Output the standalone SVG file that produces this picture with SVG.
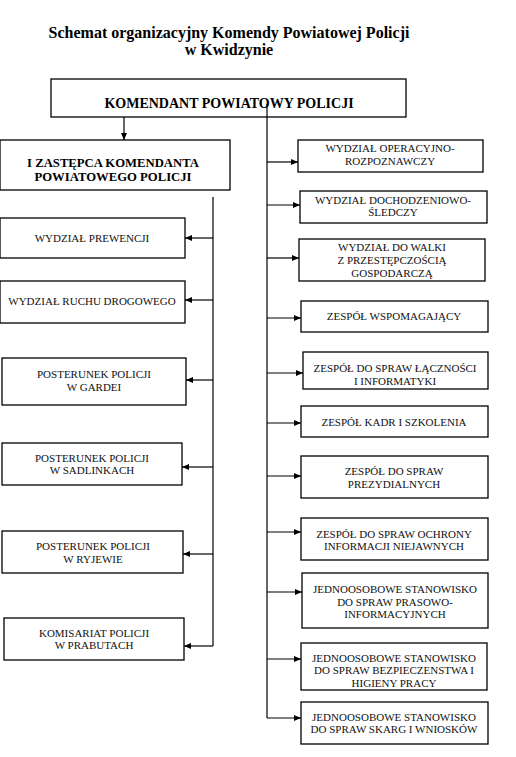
<svg xmlns="http://www.w3.org/2000/svg" width="516" height="757" viewBox="0 0 516 757">
<style>
.bx{fill:#fff;stroke:#000;stroke-width:1.3}
.t{font-family:"Liberation Serif","Times New Roman",serif;font-size:11px;fill:#111;text-anchor:middle}
.tb{font-family:"Liberation Serif","Times New Roman",serif;font-weight:bold;fill:#000;text-anchor:middle}
.ln{fill:none;stroke:#000;stroke-width:1.2}
</style>
<defs>
<marker id="ah" markerUnits="userSpaceOnUse" markerWidth="7" markerHeight="6" refX="7" refY="3" orient="auto">
<path d="M0,0 L7,3 L0,6 z" fill="#000"/>
</marker>
</defs>
<rect width="516" height="757" fill="#fff"/>
<text class="tb" x="229" y="37.5" font-size="16">Schemat organizacyjny Komendy Powiatowej Policji</text>
<text class="tb" x="229" y="55" font-size="16">w Kwidzynie</text>

<g id="komendant"><rect class="bx" x="51" y="79" width="355" height="38"/><text class="tb" x="229" y="107.5" font-size="14">KOMENDANT POWIATOWY POLICJI</text></g>
<g id="zastepca"><rect class="bx" x="0" y="140" width="230" height="50"/><text class="tb" x="113" y="166.5" font-size="12.7">I ZASTĘPCA KOMENDANTA</text><text class="tb" x="113" y="180.5" font-size="12.7">POWIATOWEGO POLICJI</text></g>

<g id="prewencja"><rect class="bx" x="0" y="218" width="185" height="40"/><text class="t" x="92" y="242">WYDZIAŁ PREWENCJI</text></g>
<g id="ruch"><rect class="bx" x="0" y="281" width="185" height="42"/><text class="t" x="92" y="305">WYDZIAŁ RUCHU DROGOWEGO</text></g>
<g id="gardeja"><rect class="bx" x="2" y="358" width="184" height="47"/><text class="t" x="94" y="378">POSTERUNEK POLICJI</text><text class="t" x="94" y="391">W GARDEI</text></g>
<g id="sadlinki"><rect class="bx" x="2" y="443" width="180" height="42"/><text class="t" x="92" y="462">POSTERUNEK POLICJI</text><text class="t" x="92" y="474">W SADLINKACH</text></g>
<g id="ryjewo"><rect class="bx" x="2" y="531" width="181" height="42"/><text class="t" x="93" y="550">POSTERUNEK POLICJI</text><text class="t" x="93" y="563">W RYJEWIE</text></g>
<g id="prabuty"><rect class="bx" x="4" y="618" width="180" height="42"/><text class="t" x="94" y="637">KOMISARIAT POLICJI</text><text class="t" x="94" y="649">W PRABUTACH</text></g>

<g id="operacyjny"><rect class="bx" x="298" y="140" width="185" height="32"/><text class="t" x="390" y="152">WYDZIAŁ OPERACYJNO-</text><text class="t" x="390" y="165">ROZPOZNAWCZY</text></g>
<g id="dochodzeniowy"><rect class="bx" x="300" y="191" width="187" height="32"/><text class="t" x="393" y="204">WYDZIAŁ DOCHODZENIOWO-</text><text class="t" x="393" y="216">ŚLEDCZY</text></g>
<g id="gospodarczy"><rect class="bx" x="299" y="239" width="186" height="42"/><text class="t" x="392" y="251">WYDZIAŁ DO WALKI</text><text class="t" x="392" y="264">Z PRZESTĘPCZOŚCIĄ</text><text class="t" x="392" y="277">GOSPODARCZĄ</text></g>
<g id="wspomagajacy"><rect class="bx" x="301" y="301" width="187" height="31"/><text class="t" x="394" y="320">ZESPÓŁ WSPOMAGAJĄCY</text></g>
<g id="lacznosc"><rect class="bx" x="303" y="352" width="185" height="37"/><text class="t" x="395" y="372">ZESPÓŁ DO SPRAW ŁĄCZNOŚCI</text><text class="t" x="395" y="385">I INFORMATYKI</text></g>
<g id="kadry"><rect class="bx" x="301" y="406" width="187" height="31"/><text class="t" x="394" y="426">ZESPÓŁ KADR I SZKOLENIA</text></g>
<g id="prezydialny"><rect class="bx" x="301" y="456" width="187" height="42"/><text class="t" x="394" y="475">ZESPÓŁ DO SPRAW</text><text class="t" x="394" y="488">PREZYDIALNYCH</text></g>
<g id="ochrona"><rect class="bx" x="301" y="518" width="187" height="42"/><text class="t" x="394" y="538">ZESPÓŁ DO SPRAW OCHRONY</text><text class="t" x="394" y="550">INFORMACJI NIEJAWNYCH</text></g>
<g id="prasowy"><rect class="bx" x="302" y="573" width="186" height="55"/><text class="t" x="395" y="593">JEDNOOSOBOWE STANOWISKO</text><text class="t" x="395" y="606">DO SPRAW PRASOWO-</text><text class="t" x="395" y="618">INFORMACYJNYCH</text></g>
<g id="bhp"><rect class="bx" x="301" y="643" width="186" height="47"/><text class="t" x="394" y="662">JEDNOOSOBOWE STANOWISKO</text><text class="t" x="394" y="674">DO SPRAW BEZPIECZENSTWA I</text><text class="t" x="394" y="687">HIGIENY PRACY</text></g>
<g id="skargi"><rect class="bx" x="301" y="702" width="187" height="42"/><text class="t" x="394" y="721">JEDNOOSOBOWE STANOWISKO</text><text class="t" x="394" y="733">DO SPRAW SKARG I WNIOSKÓW</text></g>

<g id="connectors">
<line class="ln" x1="124" y1="117" x2="124" y2="140" marker-end="url(#ah)"/>
<line class="ln" x1="267" y1="104" x2="267" y2="718"/>
<line class="ln" x1="213" y1="197" x2="213" y2="646"/>
<line class="ln" x1="213" y1="238" x2="185" y2="238" marker-end="url(#ah)"/>
<line class="ln" x1="213" y1="300" x2="185" y2="300" marker-end="url(#ah)"/>
<line class="ln" x1="213" y1="380" x2="186" y2="380" marker-end="url(#ah)"/>
<line class="ln" x1="213" y1="467" x2="182" y2="467" marker-end="url(#ah)"/>
<line class="ln" x1="213" y1="554" x2="183" y2="554" marker-end="url(#ah)"/>
<line class="ln" x1="213" y1="646" x2="184" y2="646" marker-end="url(#ah)"/>
<line class="ln" x1="267" y1="162" x2="298" y2="162" marker-end="url(#ah)"/>
<line class="ln" x1="267" y1="205" x2="300" y2="205" marker-end="url(#ah)"/>
<line class="ln" x1="267" y1="258" x2="299" y2="258" marker-end="url(#ah)"/>
<line class="ln" x1="267" y1="318" x2="301" y2="318" marker-end="url(#ah)"/>
<line class="ln" x1="267" y1="373" x2="303" y2="373" marker-end="url(#ah)"/>
<line class="ln" x1="267" y1="423" x2="301" y2="423" marker-end="url(#ah)"/>
<line class="ln" x1="267" y1="476" x2="301" y2="476" marker-end="url(#ah)"/>
<line class="ln" x1="267" y1="532" x2="301" y2="532" marker-end="url(#ah)"/>
<line class="ln" x1="267" y1="592" x2="302" y2="592" marker-end="url(#ah)"/>
<line class="ln" x1="267" y1="659" x2="301" y2="659" marker-end="url(#ah)"/>
<line class="ln" x1="267" y1="718" x2="301" y2="718" marker-end="url(#ah)"/>
</g>
</svg>
